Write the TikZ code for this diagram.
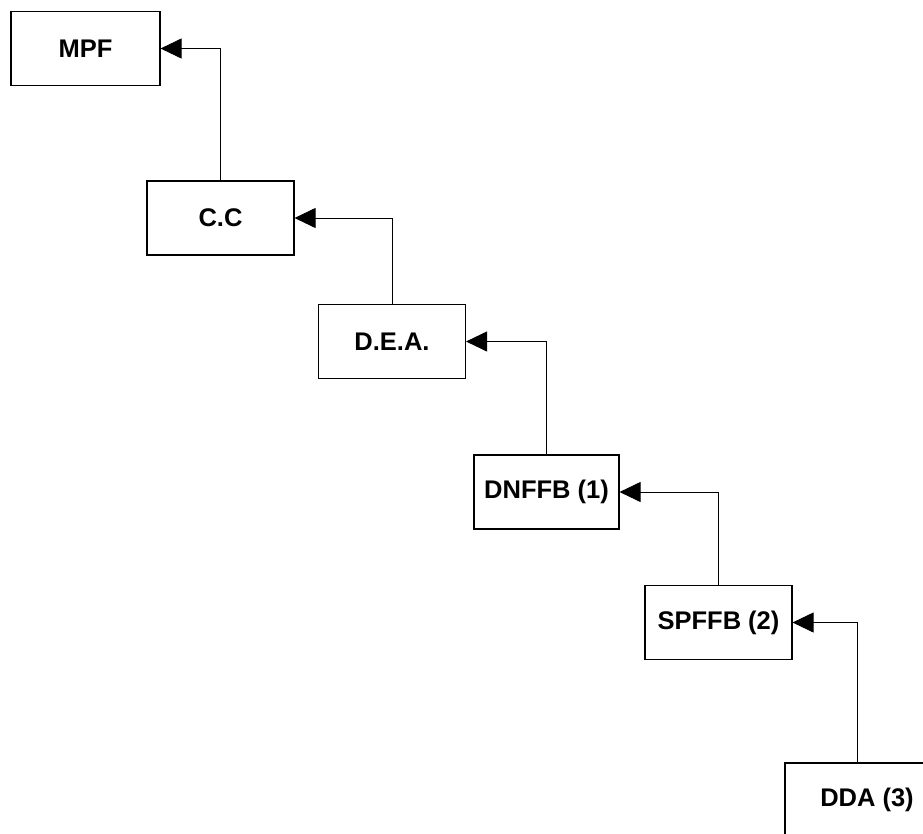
\documentclass[tikz,border=0pt]{standalone}
\usepackage{fontspec}
\setmainfont{Liberation Sans}
\usetikzlibrary{arrows.meta}
\begin{document}
\begin{tikzpicture}[x=1pt,y=-1pt,
  box/.style={draw=black,line width=1.1pt,minimum width=147pt,minimum height=74pt,
    inner sep=0pt,font=\fontsize{25.5}{30}\selectfont\bfseries},
  link/.style={draw=black,line width=0.9pt,-{Triangle[length=21pt,width=20pt]}}]
\useasboundingbox (0,0) rectangle (923,833);
\node[box,minimum width=149pt] (mpf) at (85.5,48.5) {MPF};
\node[box] (cc) at (220.5,218) {C.C};
\node[box] (dea) at (392,341.5) {D.E.A.};
\node[box,minimum width=145pt] (dnffb) at (546.5,492) {DNFFB (1)};
\node[box] (spffb) at (718.5,622.5) {SPFFB (2)};
\node[box,minimum width=164pt] (dda) at (867,800) {DDA (3)};
\coordinate (ddatop) at ([xshift=73pt]dda.north west);
\draw[link] (cc.north) |- (mpf.east);
\draw[link] (dea.north) |- (cc.east);
\draw[link] (dnffb.north) |- (dea.east);
\draw[link] (spffb.north) |- (dnffb.east);
\draw[link] (ddatop) |- (spffb.east);
\end{tikzpicture}
\end{document}
